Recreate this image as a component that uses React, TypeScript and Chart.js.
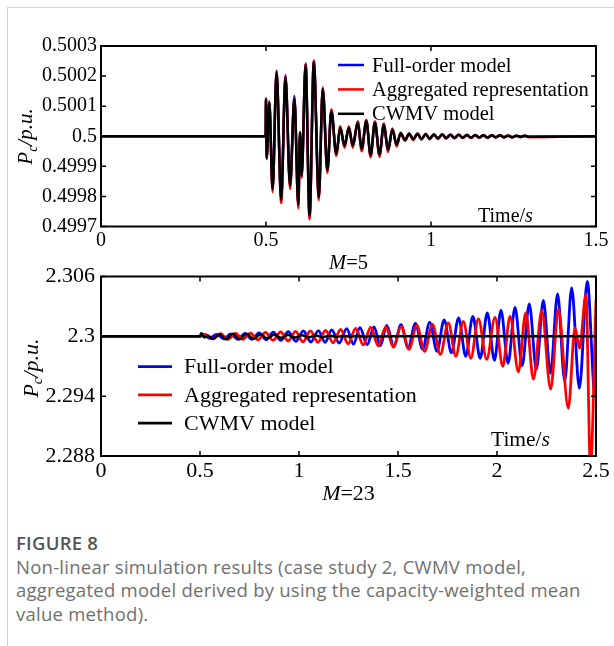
import React, { useEffect, useRef } from "react";
import { Chart, registerables } from "chart.js";

Chart.register(...registerables);

const SERIF = '"Liberation Serif", "Times New Roman", serif';
const SANS = '"Open Sans", "Noto Sans", sans-serif';

// ---------------- top panel (M = 5) ----------------
const topXTicks = [0, 0.5, 1, 1.5];
const topXTickLabels = ["0", "0.5", "1", "1.5"];
const topYTicks = [0.4997, 0.4998, 0.4999, 0.5, 0.5001, 0.5002, 0.5003];
const topYTickLabels = ["0.4997", "0.4998", "0.4999", "0.5", "0.5001", "0.5002", "0.5003"];

const topTime = [
  0, 0.499, 0.5, 0.502, 0.51, 0.52, 0.532, 0.546, 0.559, 0.573, 0.586, 0.598, 0.603, 0.608,
  0.62, 0.632, 0.645, 0.66, 0.672, 0.686, 0.698, 0.713, 0.725, 0.738, 0.751, 0.763, 0.778,
  0.79, 0.804, 0.817, 0.83, 0.844, 0.857, 0.87, 0.883, 0.896, 0.908, 0.921, 0.934, 0.946,
  0.959, 0.971, 0.984, 0.996, 1.009, 1.021, 1.034, 1.046, 1.059, 1.071, 1.084, 1.096, 1.109,
  1.121, 1.134, 1.146, 1.159, 1.171, 1.184, 1.196, 1.209, 1.221, 1.234, 1.246, 1.259, 1.271,
  1.284, 1.296, 1.5,
];
const topFullOrder = [
  0.5, 0.5, 0.500126, 0.499926, 0.500116, 0.499822, 0.500218, 0.499786, 0.500203, 0.499833,
  0.500134, 0.499769, 0.500014, 0.499868, 0.500242, 0.499733, 0.500252, 0.499795, 0.50016,
  0.499885, 0.500086, 0.49994, 0.50003, 0.499967, 0.50003, 0.499967, 0.500047, 0.499956,
  0.500052, 0.499936, 0.500047, 0.499938, 0.50004, 0.499953, 0.500024, 0.49997, 0.500011,
  0.499987, 0.500008, 0.49999, 0.500008, 0.499991, 0.500007, 0.499992, 0.500006, 0.499993,
  0.500006, 0.499994, 0.500005, 0.499994, 0.500005, 0.499995, 0.500004, 0.499995, 0.500004,
  0.499996, 0.500003, 0.499996, 0.500003, 0.499997, 0.500003, 0.499997, 0.500002, 0.499997,
  0.500002, 0.499998, 0.500002, 0.499998, 0.5,
];
const topAggregated = [
  0.5, 0.5, 0.500125, 0.499924, 0.500114, 0.499815, 0.500214, 0.499778, 0.500198, 0.499825,
  0.500128, 0.49976, 0.500014, 0.499862, 0.50024, 0.499724, 0.50025, 0.499788, 0.500162,
  0.499878, 0.50009, 0.499935, 0.500033, 0.499962, 0.500033, 0.499962, 0.50005, 0.49995,
  0.500055, 0.49993, 0.50005, 0.499932, 0.500042, 0.499948, 0.500026, 0.499966, 0.500012,
  0.499985, 0.500009, 0.499988, 0.500009, 0.499989, 0.500008, 0.49999, 0.500007, 0.499991,
  0.500007, 0.499992, 0.500006, 0.499993, 0.500005, 0.499994, 0.500005, 0.499994, 0.500004,
  0.499995, 0.500004, 0.499995, 0.500003, 0.499996, 0.500003, 0.499996, 0.500003, 0.499996,
  0.500002, 0.499997, 0.500002, 0.499997, 0.5,
];
const topCwmv = [
  0.5, 0.5, 0.500122, 0.499928, 0.500111, 0.499825, 0.500211, 0.499789, 0.500195, 0.499836,
  0.500125, 0.499772, 0.500012, 0.49987, 0.500236, 0.499736, 0.500245, 0.499798, 0.500156,
  0.499887, 0.500083, 0.499942, 0.500028, 0.499969, 0.500028, 0.499969, 0.500045, 0.499958,
  0.50005, 0.499938, 0.500045, 0.49994, 0.500038, 0.499955, 0.500022, 0.499972, 0.50001,
  0.499988, 0.500008, 0.49999, 0.500008, 0.499991, 0.500007, 0.499992, 0.500006, 0.499993,
  0.500006, 0.499994, 0.500005, 0.499994, 0.500005, 0.499995, 0.500004, 0.499995, 0.500004,
  0.499996, 0.500003, 0.499996, 0.500003, 0.499997, 0.500003, 0.499997, 0.500002, 0.499997,
  0.500002, 0.499998, 0.500002, 0.499998, 0.5,
];

// ---------------- bottom panel (M = 23) ----------------
const bottomXTicks = [0, 0.5, 1, 1.5, 2, 2.5];
const bottomXTickLabels = ["0", "0.5", "1", "1.5", "2", "2.5"];
const bottomYTicks = [2.288, 2.294, 2.3, 2.306];
const bottomYTickLabels = ["2.288", "2.294", "2.3", "2.306"];

const bottomFullTime = [
  0, 0.5, 0.512, 0.548, 0.584, 0.62, 0.655, 0.691, 0.727, 0.762, 0.798, 0.834, 0.87, 0.908,
  0.946, 0.984, 1.022, 1.06, 1.098, 1.132, 1.165, 1.203, 1.241, 1.275, 1.308, 1.344, 1.379,
  1.411, 1.443, 1.479, 1.515, 1.551, 1.588, 1.624, 1.66, 1.697, 1.733, 1.77, 1.806, 1.842,
  1.878, 1.915, 1.951, 1.987, 2.02, 2.056, 2.091, 2.127, 2.163, 2.199, 2.234, 2.27, 2.306,
  2.342, 2.377, 2.416, 2.456, 2.495, 2.5,
];
const bottomFullOrder = [
  2.3, 2.3, 2.30025, 2.2998, 2.3002, 2.29975, 2.30025, 2.2997, 2.3003, 2.2997, 2.30035,
  2.29965, 2.30042, 2.2996, 2.30048, 2.2995, 2.30055, 2.29943, 2.30058, 2.2994, 2.30065,
  2.29933, 2.30078, 2.29923, 2.30088, 2.29916, 2.30095, 2.29905, 2.3011, 2.299, 2.30117,
  2.29885, 2.3013, 2.2987, 2.3014, 2.2985, 2.30165, 2.29835, 2.30185, 2.298, 2.302, 2.2978,
  2.30235, 2.2976, 2.3026, 2.2973, 2.3029, 2.29705, 2.30325, 2.2967, 2.3036, 2.2963, 2.30425,
  2.2955, 2.30485, 2.2948, 2.3055, 2.2941, 2.2942,
];

const bottomAggTime = [
  0, 0.5, 0.527, 0.565, 0.603, 0.641, 0.679, 0.717, 0.755, 0.793, 0.831, 0.869, 0.907, 0.945,
  0.983, 1.02, 1.058, 1.096, 1.134, 1.172, 1.21, 1.248, 1.286, 1.324, 1.362, 1.4, 1.438, 1.477,
  1.516, 1.555, 1.595, 1.634, 1.674, 1.714, 1.754, 1.792, 1.83, 1.868, 1.906, 1.948, 1.99,
  2.029, 2.066, 2.108, 2.145, 2.184, 2.226, 2.271, 2.31, 2.36, 2.394, 2.417, 2.449, 2.472, 2.5,
];
const bottomAggregated = [
  2.3, 2.3, 2.3002, 2.29975, 2.30028, 2.2997, 2.3003, 2.2997, 2.30032, 2.29965, 2.3004, 2.2996,
  2.30045, 2.29953, 2.3005, 2.29945, 2.30055, 2.2994, 2.3006, 2.29935, 2.3007, 2.29925, 2.3008,
  2.29915, 2.3009, 2.29905, 2.30095, 2.2989, 2.301, 2.2987, 2.3011, 2.2985, 2.3012, 2.2982,
  2.30135, 2.298, 2.3015, 2.2978, 2.30175, 2.2977, 2.3019, 2.297, 2.302, 2.29645, 2.30235,
  2.2957, 2.3026, 2.2947, 2.3027, 2.2928, 2.30085, 2.2988, 2.3042, 2.287, 2.3036,
];

const bottomCwmvTime = [
  0, 0.5, 0.506, 0.52, 0.54, 0.565, 0.6, 0.63, 0.665, 0.7, 0.735, 0.77, 0.805, 0.84, 0.875,
  0.91, 0.945, 0.98, 1.015, 1.05, 1.085, 1.12, 1.155, 1.19, 1.225, 1.26, 1.295, 1.33, 1.365,
  1.4, 1.45, 2.5,
];
const bottomCwmv = [
  2.3, 2.3, 2.3003, 2.2999, 2.30005, 2.29975, 2.3002, 2.2997, 2.30025, 2.29972, 2.30025,
  2.29975, 2.3002, 2.2998, 2.30015, 2.29985, 2.30013, 2.29988, 2.3001, 2.2999, 2.30008,
  2.29992, 2.30007, 2.29994, 2.30005, 2.29995, 2.30004, 2.29996, 2.30003, 2.29998, 2.3, 2.3,
];

const seriesLabels = ["Full-order model", "Aggregated representation", "CWMV model"];

// ---------------- drawing helpers ----------------
type Run = { text: string; italic?: boolean; size: number; dy?: number };

function drawRuns(ctx: CanvasRenderingContext2D, runs: Run[], x: number, y: number, align: "left" | "center") {
  const fontOf = (r: Run) => `${r.italic ? "italic " : ""}${r.size}px ${SERIF}`;
  const widths = runs.map((r) => {
    ctx.font = fontOf(r);
    return ctx.measureText(r.text).width;
  });
  const total = widths.reduce((a, b) => a + b, 0);
  let cx = align === "center" ? x - total / 2 : x;
  ctx.textAlign = "left";
  ctx.textBaseline = "alphabetic";
  runs.forEach((r, i) => {
    ctx.font = fontOf(r);
    ctx.fillText(r.text, cx, y + (r.dy || 0));
    cx += widths[i];
  });
}

const panelDecor = {
  id: "panelDecor",
  afterDatasetsDraw(chart: any, _args: any, o: any) {
    const { ctx, chartArea: a, scales } = chart;
    const xs = scales.x;
    const ys = scales.y;
    ctx.save();
    ctx.fillStyle = "#000";
    ctx.strokeStyle = "#000";
    // frame
    ctx.lineWidth = o.frameWidth;
    ctx.strokeRect(a.left, a.top, a.right - a.left, a.bottom - a.top);
    // inward ticks on all four sides
    ctx.lineWidth = o.tickWidth;
    ctx.beginPath();
    xs.ticks.forEach((t: any) => {
      const px = xs.getPixelForValue(t.value);
      ctx.moveTo(px, a.bottom);
      ctx.lineTo(px, a.bottom - o.tickLen);
      ctx.moveTo(px, a.top);
      ctx.lineTo(px, a.top + o.tickLen);
    });
    ys.ticks.forEach((t: any) => {
      const py = ys.getPixelForValue(t.value);
      ctx.moveTo(a.left, py);
      ctx.lineTo(a.left + o.tickLen, py);
      ctx.moveTo(a.right, py);
      ctx.lineTo(a.right - o.tickLen, py);
    });
    ctx.stroke();

    // legend
    const lg = o.legend;
    chart.data.datasets.forEach((ds: any, i: number) => {
      const base = lg.y0 + i * lg.dy;
      ctx.strokeStyle = ds.borderColor;
      ctx.lineWidth = lg.lineWidth;
      ctx.beginPath();
      ctx.moveTo(lg.x0, base - lg.lineRaise);
      ctx.lineTo(lg.x1, base - lg.lineRaise);
      ctx.stroke();
      ctx.fillStyle = "#000";
      drawRuns(ctx, [{ text: ds.label, size: lg.size }], lg.textX, base, "left");
    });

    // Time/s inside the plot
    drawRuns(
      ctx,
      [
        { text: "Time/", size: o.time.size },
        { text: "s", size: o.time.size, italic: true },
      ],
      o.time.x,
      o.time.y,
      "left"
    );

    // panel caption under the x axis
    drawRuns(
      ctx,
      [
        { text: "M", size: o.caption.size, italic: true },
        { text: o.caption.rest, size: o.caption.size },
      ],
      (a.left + a.right) / 2,
      o.caption.y,
      "center"
    );

    // y title (rotated)
    ctx.save();
    ctx.translate(o.ytitle.x, o.ytitle.y);
    ctx.rotate(-Math.PI / 2);
    const s = o.ytitle.size;
    drawRuns(
      ctx,
      [
        { text: "P", size: s, italic: true },
        { text: "c", size: Math.round(s * 0.68), italic: true, dy: s * 0.22 },
        { text: "/p.u.", size: s, italic: true },
      ],
      0,
      o.ytitle.base,
      "center"
    );
    ctx.restore();
    ctx.restore();
  },
};

function lineSet(label: string, xs: number[], ys: number[], color: string, order: number, width: number) {
  return {
    label,
    data: xs.map((t, i) => ({ x: t, y: ys[i] })),
    borderColor: color,
    backgroundColor: color,
    borderWidth: width,
    pointRadius: 0,
    cubicInterpolationMode: "monotone" as const,
    borderJoinStyle: "round" as const,
    borderCapStyle: "round" as const,
    fill: false,
    order,
  };
}

function axisCfg(min: number, max: number, ticks: number[], labels: string[], fontSize: number, padding: number, fit: (s: any) => void) {
  return {
    type: "linear" as const,
    min,
    max,
    afterBuildTicks: (s: any) => {
      s.ticks = ticks.map((v) => ({ value: v }));
    },
    afterFit: fit,
    grid: { display: false, drawTicks: false, tickLength: 0 },
    border: { display: false },
    ticks: {
      autoSkip: false,
      maxRotation: 0,
      minRotation: 0,
      padding,
      color: "#000",
      font: { family: SERIF, size: fontSize },
      callback: (_v: any, i: number) => labels[i],
    },
  };
}

function topConfig(): any {
  return {
    type: "line",
    data: {
      datasets: [
        lineSet(seriesLabels[0], topTime, topFullOrder, "#0000ff", 3, 2.5),
        lineSet(seriesLabels[1], topTime, topAggregated, "#ff0000", 2, 2.5),
        lineSet(seriesLabels[2], topTime, topCwmv, "#000000", 1, 2.5),
      ],
    },
    options: {
      responsive: false,
      animation: false,
      devicePixelRatio: 1,
      layout: { padding: { left: 0, top: 46, right: 18, bottom: 0 } },
      plugins: {
        legend: { display: false },
        tooltip: { enabled: false },
        panelDecor: {
          frameWidth: 2,
          tickWidth: 1.5,
          tickLen: 5,
          legend: { x0: 338, x1: 364, textX: 372, y0: 71.5, dy: 24.4, lineRaise: 6.5, size: 20.5, lineWidth: 2.5 },
          time: { x: 478, y: 221.5, size: 20 },
          caption: { rest: "=5", y: 269, size: 20.5 },
          ytitle: { x: 25, y: 136.5, base: 7, size: 21 },
        },
      },
      scales: {
        x: axisCfg(0, 1.5, topXTicks, topXTickLabels, 20, 2, (s: any) => {
          s.height = 53.5;
        }),
        y: axisCfg(0.4997, 0.5003, topYTicks, topYTickLabels, 20, 4, (s: any) => {
          s.width = 101;
        }),
      },
    },
    plugins: [panelDecor],
  };
}

const BOTTOM_TOP = 250;

function bottomConfig(): any {
  return {
    type: "line",
    data: {
      datasets: [
        lineSet(seriesLabels[0], bottomFullTime, bottomFullOrder, "#0000ff", 3, 2.8),
        lineSet(seriesLabels[1], bottomAggTime, bottomAggregated, "#ff0000", 2, 2.8),
        lineSet(seriesLabels[2], bottomCwmvTime, bottomCwmv, "#000000", 1, 2.5),
      ],
    },
    options: {
      responsive: false,
      animation: false,
      devicePixelRatio: 1,
      layout: { padding: { left: 0, top: 276.5 - BOTTOM_TOP, right: 18, bottom: 0 } },
      plugins: {
        legend: { display: false },
        tooltip: { enabled: false },
        panelDecor: {
          frameWidth: 2,
          tickWidth: 1.5,
          tickLen: 5,
          legend: { x0: 138, x1: 172, textX: 184, y0: 373.3 - BOTTOM_TOP, dy: 28.3, lineRaise: 6.7, size: 22, lineWidth: 2.8 },
          time: { x: 491, y: 446 - BOTTOM_TOP, size: 21.5 },
          caption: { rest: "=23", y: 500 - BOTTOM_TOP, size: 22 },
          ytitle: { x: 30, y: 368 - BOTTOM_TOP, base: 7.5, size: 22 },
        },
      },
      scales: {
        x: axisCfg(0, 2.5, bottomXTicks, bottomXTickLabels, 22, 2, (s: any) => {
          s.height = 262 - (456 - BOTTOM_TOP);
        }),
        y: axisCfg(2.288, 2.306, bottomYTicks, bottomYTickLabels, 22, 6, (s: any) => {
          s.width = 101;
        }),
      },
    },
    plugins: [panelDecor],
  };
}

function ChartCanvas({ make, top, height }: { make: () => any; top: number; height: number }) {
  const ref = useRef<HTMLCanvasElement | null>(null);
  useEffect(() => {
    if (!ref.current) return;
    const chart = new Chart(ref.current, make());
    return () => chart.destroy();
  }, [make]);
  return (
    <canvas
      ref={ref}
      width={614}
      height={height}
      style={{ position: "absolute", left: 0, top, width: 614, height }}
    />
  );
}

const captionLines = [
  "Non-linear simulation results (case study 2, CWMV model,",
  "aggregated model derived by using the capacity-weighted mean",
  "value method).",
];

export default function App() {
  return (
    <div
      style={{
        position: "absolute",
        left: 0,
        top: 0,
        width: 614,
        height: 646,
        background: "#fff",
        overflow: "hidden",
      }}
    >
      <div
        style={{
          position: "absolute",
          left: 7,
          top: 7,
          width: 620,
          height: 660,
          borderTop: "1px solid #d4d4d4",
          borderLeft: "1px solid #d4d4d4",
        }}
      />
      <ChartCanvas make={topConfig} top={0} height={280} />
      <ChartCanvas make={bottomConfig} top={BOTTOM_TOP} height={262} />
      <div
        style={{
          position: "absolute",
          left: 16,
          top: 531,
          fontFamily: SANS,
          fontSize: 18.5,
          letterSpacing: "0.25px",
          fontWeight: 600,
          color: "#555",
          lineHeight: "24px",
          whiteSpace: "nowrap",
        }}
      >
        FIGURE 8
      </div>
      {captionLines.map((t, i) => (
        <div
          key={i}
          style={{
            position: "absolute",
            left: 16,
            top: 555 + i * 23.3,
            fontFamily: SANS,
            fontSize: 18.5,
            letterSpacing: "0.25px",
            color: "#707070",
            lineHeight: "24px",
            whiteSpace: "nowrap",
          }}
        >
          {t}
        </div>
      ))}
    </div>
  );
}
